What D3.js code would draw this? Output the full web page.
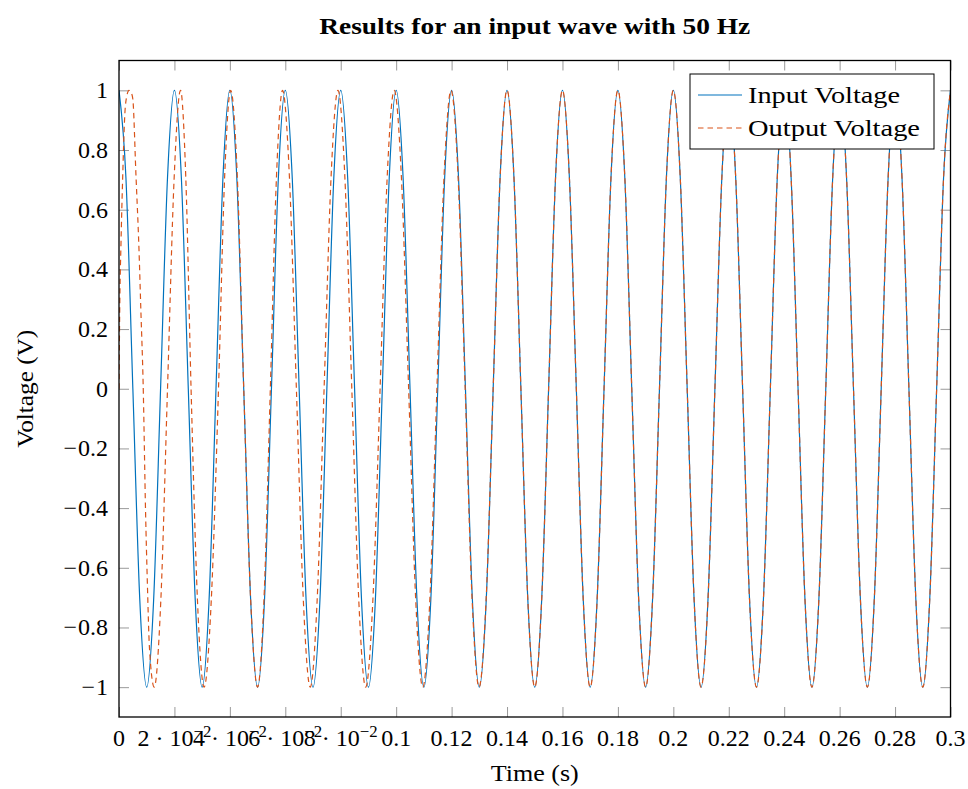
<!DOCTYPE html>
<html><head><meta charset="utf-8">
<script src="https://cdn.jsdelivr.net/npm/d3@7"></script>
<style>
body{margin:0;background:#fff}
svg{display:block}
</style>
</head><body>
<svg id="c" width="968" height="789"></svg>
<script>
// ---------------- data ----------------
const titleText = "Results for an input wave with 50 Hz";
const xLabelText = "Time (s)";
const yLabelText = "Voltage (V)";
const seriesNames = ["Input Voltage", "Output Voltage"];

const xTickValues = [0,0.02,0.04,0.06,0.08,0.1,0.12,0.14,0.16,0.18,0.2,0.22,0.24,0.26,0.28,0.3];
const xTickLabels = ["0","2 · 10^{−2}","4 · 10^{−2}","6 · 10^{−2}","8 · 10^{−2}","0.1","0.12","0.14","0.16","0.18","0.2","0.22","0.24","0.26","0.28","0.3"];
const yTickValues = [-1,-0.8,-0.6,-0.4,-0.2,0,0.2,0.4,0.6,0.8,1];
const yTickLabels = ["−1","−0.8","−0.6","−0.4","−0.2","0","0.2","0.4","0.6","0.8","1"];

const inputTime = [
0,0.0025,0.005,0.0075,0.01,0.0125,0.015,0.0175,
0.02,0.0225,0.025,0.0275,0.03,0.0325,0.035,0.0375,
0.04,0.0425,0.045,0.0475,0.05,0.0525,0.055,0.0575,
0.06,0.0625,0.065,0.0675,0.07,0.0725,0.075,0.0775,
0.08,0.0825,0.085,0.0875,0.09,0.0925,0.095,0.0975,
0.1,0.1025,0.105,0.1075,0.11,0.1125,0.115,0.1175,
0.12,0.1225,0.125,0.1275,0.13,0.1325,0.135,0.1375,
0.14,0.1425,0.145,0.1475,0.15,0.1525,0.155,0.1575,
0.16,0.1625,0.165,0.1675,0.17,0.1725,0.175,0.1775,
0.18,0.1825,0.185,0.1875,0.19,0.1925,0.195,0.1975,
0.2,0.2025,0.205,0.2075,0.21,0.2125,0.215,0.2175,
0.22,0.2225,0.225,0.2275,0.23,0.2325,0.235,0.2375,
0.24,0.2425,0.245,0.2475,0.25,0.2525,0.255,0.2575,
0.26,0.2625,0.265,0.2675,0.27,0.2725,0.275,0.2775,
0.28,0.2825,0.285,0.2875,0.29,0.2925,0.295,0.2975,
0.3];
const inputVoltage = [
1,0.7071,0,-0.7071,-1,-0.7071,0,0.7071,
1,0.7071,0,-0.7071,-1,-0.7071,0,0.7071,
1,0.7071,0,-0.7071,-1,-0.7071,0,0.7071,
1,0.7071,0,-0.7071,-1,-0.7071,0,0.7071,
1,0.7071,0,-0.7071,-1,-0.7071,0,0.7071,
1,0.7071,0,-0.7071,-1,-0.7071,0,0.7071,
1,0.7071,0,-0.7071,-1,-0.7071,0,0.7071,
1,0.7071,0,-0.7071,-1,-0.7071,0,0.7071,
1,0.7071,0,-0.7071,-1,-0.7071,0,0.7071,
1,0.7071,0,-0.7071,-1,-0.7071,0,0.7071,
1,0.7071,0,-0.7071,-1,-0.7071,0,0.7071,
1,0.7071,0,-0.7071,-1,-0.7071,0,0.7071,
1,0.7071,0,-0.7071,-1,-0.7071,0,0.7071,
1,0.7071,0,-0.7071,-1,-0.7071,0,0.7071,
1,0.7071,0,-0.7071,-1,-0.7071,0,0.7071,
1];

const outputTime = [
0,0.0003,0.0007,0.0013,0.0021,0.0028,0.0036,0.0045,0.005,0.0061,0.0072,0.0079,0.0087,0.0096,0.0102,0.011,0.0127,
0.0151,0.0175,0.0199,
0.0222,0.0241,0.026,0.0283,0.0307,0.0333,0.0359,0.0381,
0.0403,0.0427,0.045,0.0475,0.05,0.0523,0.0546,0.0568,
0.059,0.0615,0.064,0.0665,0.069,0.0715,0.074,0.0765,
0.079,0.0815,0.084,0.0865,0.089,0.0916,0.0942,0.09675,
0.0993,0.1019,0.1045,0.10705,0.1096,0.11215,0.1147,0.11725,
0.1198,0.12235,0.1249,0.1274,0.1299,0.13245,0.135,0.1375,
0.14,0.1425,0.145,0.1475,0.15,0.1525,0.155,0.1575,
0.16,0.1625,0.165,0.1675,0.17,0.1725,0.175,0.1775,
0.18,0.1825,0.185,0.1875,0.19,0.1925,0.195,0.1975,
0.2,0.2025,0.205,0.2075,0.21,0.2125,0.215,0.2175,
0.22,0.2225,0.225,0.2275,0.23,0.2325,0.235,0.2375,
0.24,0.2425,0.245,0.2475,0.25,0.2525,0.255,0.2575,
0.26,0.2625,0.265,0.2675,0.27,0.2725,0.275,0.2775,
0.28,0.2825,0.285,0.2875,0.29,0.2925,0.295,0.2975,
0.3];
const outputVoltage = [
0,0.3,0.48,0.7,0.92,0.98,1,0.99,0.97,0.72,0.47,0.26,0.02,-0.42,-0.64,-0.87,-1,
-0.7071,0,0.7071,
1,0.7071,0,-0.7071,-1,-0.7071,0,0.7071,
1,0.7071,0,-0.7071,-1,-0.7071,0,0.7071,
1,0.7071,0,-0.7071,-1,-0.7071,0,0.7071,
1,0.7071,0,-0.7071,-1,-0.7071,0,0.7071,
1,0.7071,0,-0.7071,-1,-0.7071,0,0.7071,
1,0.7071,0,-0.7071,-1,-0.7071,0,0.7071,
1,0.7071,0,-0.7071,-1,-0.7071,0,0.7071,
1,0.7071,0,-0.7071,-1,-0.7071,0,0.7071,
1,0.7071,0,-0.7071,-1,-0.7071,0,0.7071,
1,0.7071,0,-0.7071,-1,-0.7071,0,0.7071,
1,0.7071,0,-0.7071,-1,-0.7071,0,0.7071,
1,0.7071,0,-0.7071,-1,-0.7071,0,0.7071,
1,0.7071,0,-0.7071,-1,-0.7071,0,0.7071,
1,0.7071,0,-0.7071,-1,-0.7071,0,0.7071,
1];

// ---------------- drawing ----------------
const FONT = "'Liberation Serif', 'Times New Roman', Times, serif";
const svg = d3.select('#c').style('font-family', FONT);
const X0 = 119, X1 = 950.5, Y0 = 60.5, Y1 = 717;
const x = d3.scaleLinear().domain([0, 0.3]).range([X0, X1]);
const y = d3.scaleLinear().domain([-1.1, 1.1]).range([Y1, Y0]);
const colors = ["#0072BD", "#D95319"];
const FS = 24;

svg.append('defs').append('clipPath').attr('id','clip')
  .append('rect').attr('x',X0).attr('y',Y0).attr('width',X1-X0).attr('height',Y1-Y0);

const tickStyle = g => {
  g.attr('font-family', null).attr('font-size', null);
  g.select('.domain').remove();
  g.selectAll('.tick line').attr('stroke','#999').attr('stroke-width',1);
  g.selectAll('.tick text').remove();
};
svg.append('g').attr('transform',`translate(0,${Y1})`)
  .call(d3.axisBottom(x).tickValues(xTickValues).tickSizeInner(-10).tickSizeOuter(0)).call(tickStyle);
svg.append('g').attr('transform',`translate(0,${Y0})`)
  .call(d3.axisTop(x).tickValues(xTickValues).tickSizeInner(-10).tickSizeOuter(0)).call(tickStyle);
svg.append('g').attr('transform',`translate(${X0},0)`)
  .call(d3.axisLeft(y).tickValues(yTickValues).tickSizeInner(-10).tickSizeOuter(0)).call(tickStyle);
svg.append('g').attr('transform',`translate(${X1},0)`)
  .call(d3.axisRight(y).tickValues(yTickValues).tickSizeInner(-10).tickSizeOuter(0)).call(tickStyle);

// series
const line = d3.line().x(d => x(d[0])).y(d => y(d[1])).curve(d3.curveMonotoneX);
const inputData = inputTime.map((t,i) => [t, inputVoltage[i]]);
const outputData = outputTime.map((t,i) => [t, outputVoltage[i]]);
const plot = svg.append('g').attr('clip-path','url(#clip)');
plot.append('path').datum(inputData).attr('d', line)
  .attr('fill','none').attr('stroke',colors[0]).attr('stroke-width',1.2);
plot.append('path').datum(outputData).attr('d', line)
  .attr('fill','none').attr('stroke',colors[1]).attr('stroke-width',1.2)
  .attr('stroke-dasharray','5.5,4');

// box
svg.append('rect').attr('x',X0).attr('y',Y0).attr('width',X1-X0).attr('height',Y1-Y0)
  .attr('fill','none').attr('stroke','#000').attr('stroke-width',1.3);

const txt = (sel) => sel.append('text').attr('font-family', FONT).attr('fill','#000');

// x tick labels
xTickValues.forEach((v,i) => {
  const lab = xTickLabels[i];
  const t = txt(svg).attr('x', x(v)).attr('y', 746)
    .attr('text-anchor','middle').attr('font-size', FS);
  const m = lab.match(/^(.*)\^\{(.*)\}$/);
  if (m) {
    t.append('tspan').text(m[1]);
    t.append('tspan').attr('dy', -9).attr('font-size', FS*0.7).text(m[2]);
  } else {
    t.text(lab);
  }
});
// y tick labels (TeX-style slightly wider minus)
yTickValues.forEach((v,i) => {
  const lab = yTickLabels[i];
  const t = txt(svg).attr('x', 108).attr('y', y(v) + 8)
    .attr('text-anchor','end').attr('font-size', FS);
  if (lab.startsWith('−')) {
    t.append('tspan').text('−');
    t.append('tspan').attr('dx', 1).text(lab.slice(1));
  } else {
    t.text(lab);
  }
});

// title
txt(svg).attr('x', (X0+X1)/2).attr('y', 34).attr('text-anchor','middle')
  .attr('font-size', 23).attr('font-weight','bold')
  .attr('textLength', 431).attr('lengthAdjust','spacingAndGlyphs').text(titleText);
// axis labels
txt(svg).attr('x', (X0+X1)/2).attr('y', 781).attr('text-anchor','middle')
  .attr('font-size', FS).attr('textLength', 88).attr('lengthAdjust','spacingAndGlyphs').text(xLabelText);
txt(svg).attr('transform', `translate(33,${y(0)}) rotate(-90)`).attr('text-anchor','middle')
  .attr('font-size', FS).attr('textLength', 118).attr('lengthAdjust','spacingAndGlyphs').text(yLabelText);

// legend
const lg = svg.append('g');
lg.append('rect').attr('x',690).attr('y',74).attr('width',244).attr('height',75)
  .attr('fill','#fff').attr('stroke','#000').attr('stroke-width',1);
const legW = [152, 172];
seriesNames.forEach((name,i) => {
  const cy = 95 + i*33;
  lg.append('line').attr('x1',698).attr('x2',742).attr('y1',cy).attr('y2',cy)
    .attr('stroke',colors[i]).attr('stroke-width',1.2)
    .attr('stroke-dasharray', i === 1 ? '5.5,4' : null);
  txt(lg).attr('x',748).attr('y',cy+8).attr('font-size',FS)
    .attr('textLength', legW[i]).attr('lengthAdjust','spacingAndGlyphs').text(name);
});
</script>
</body></html>
